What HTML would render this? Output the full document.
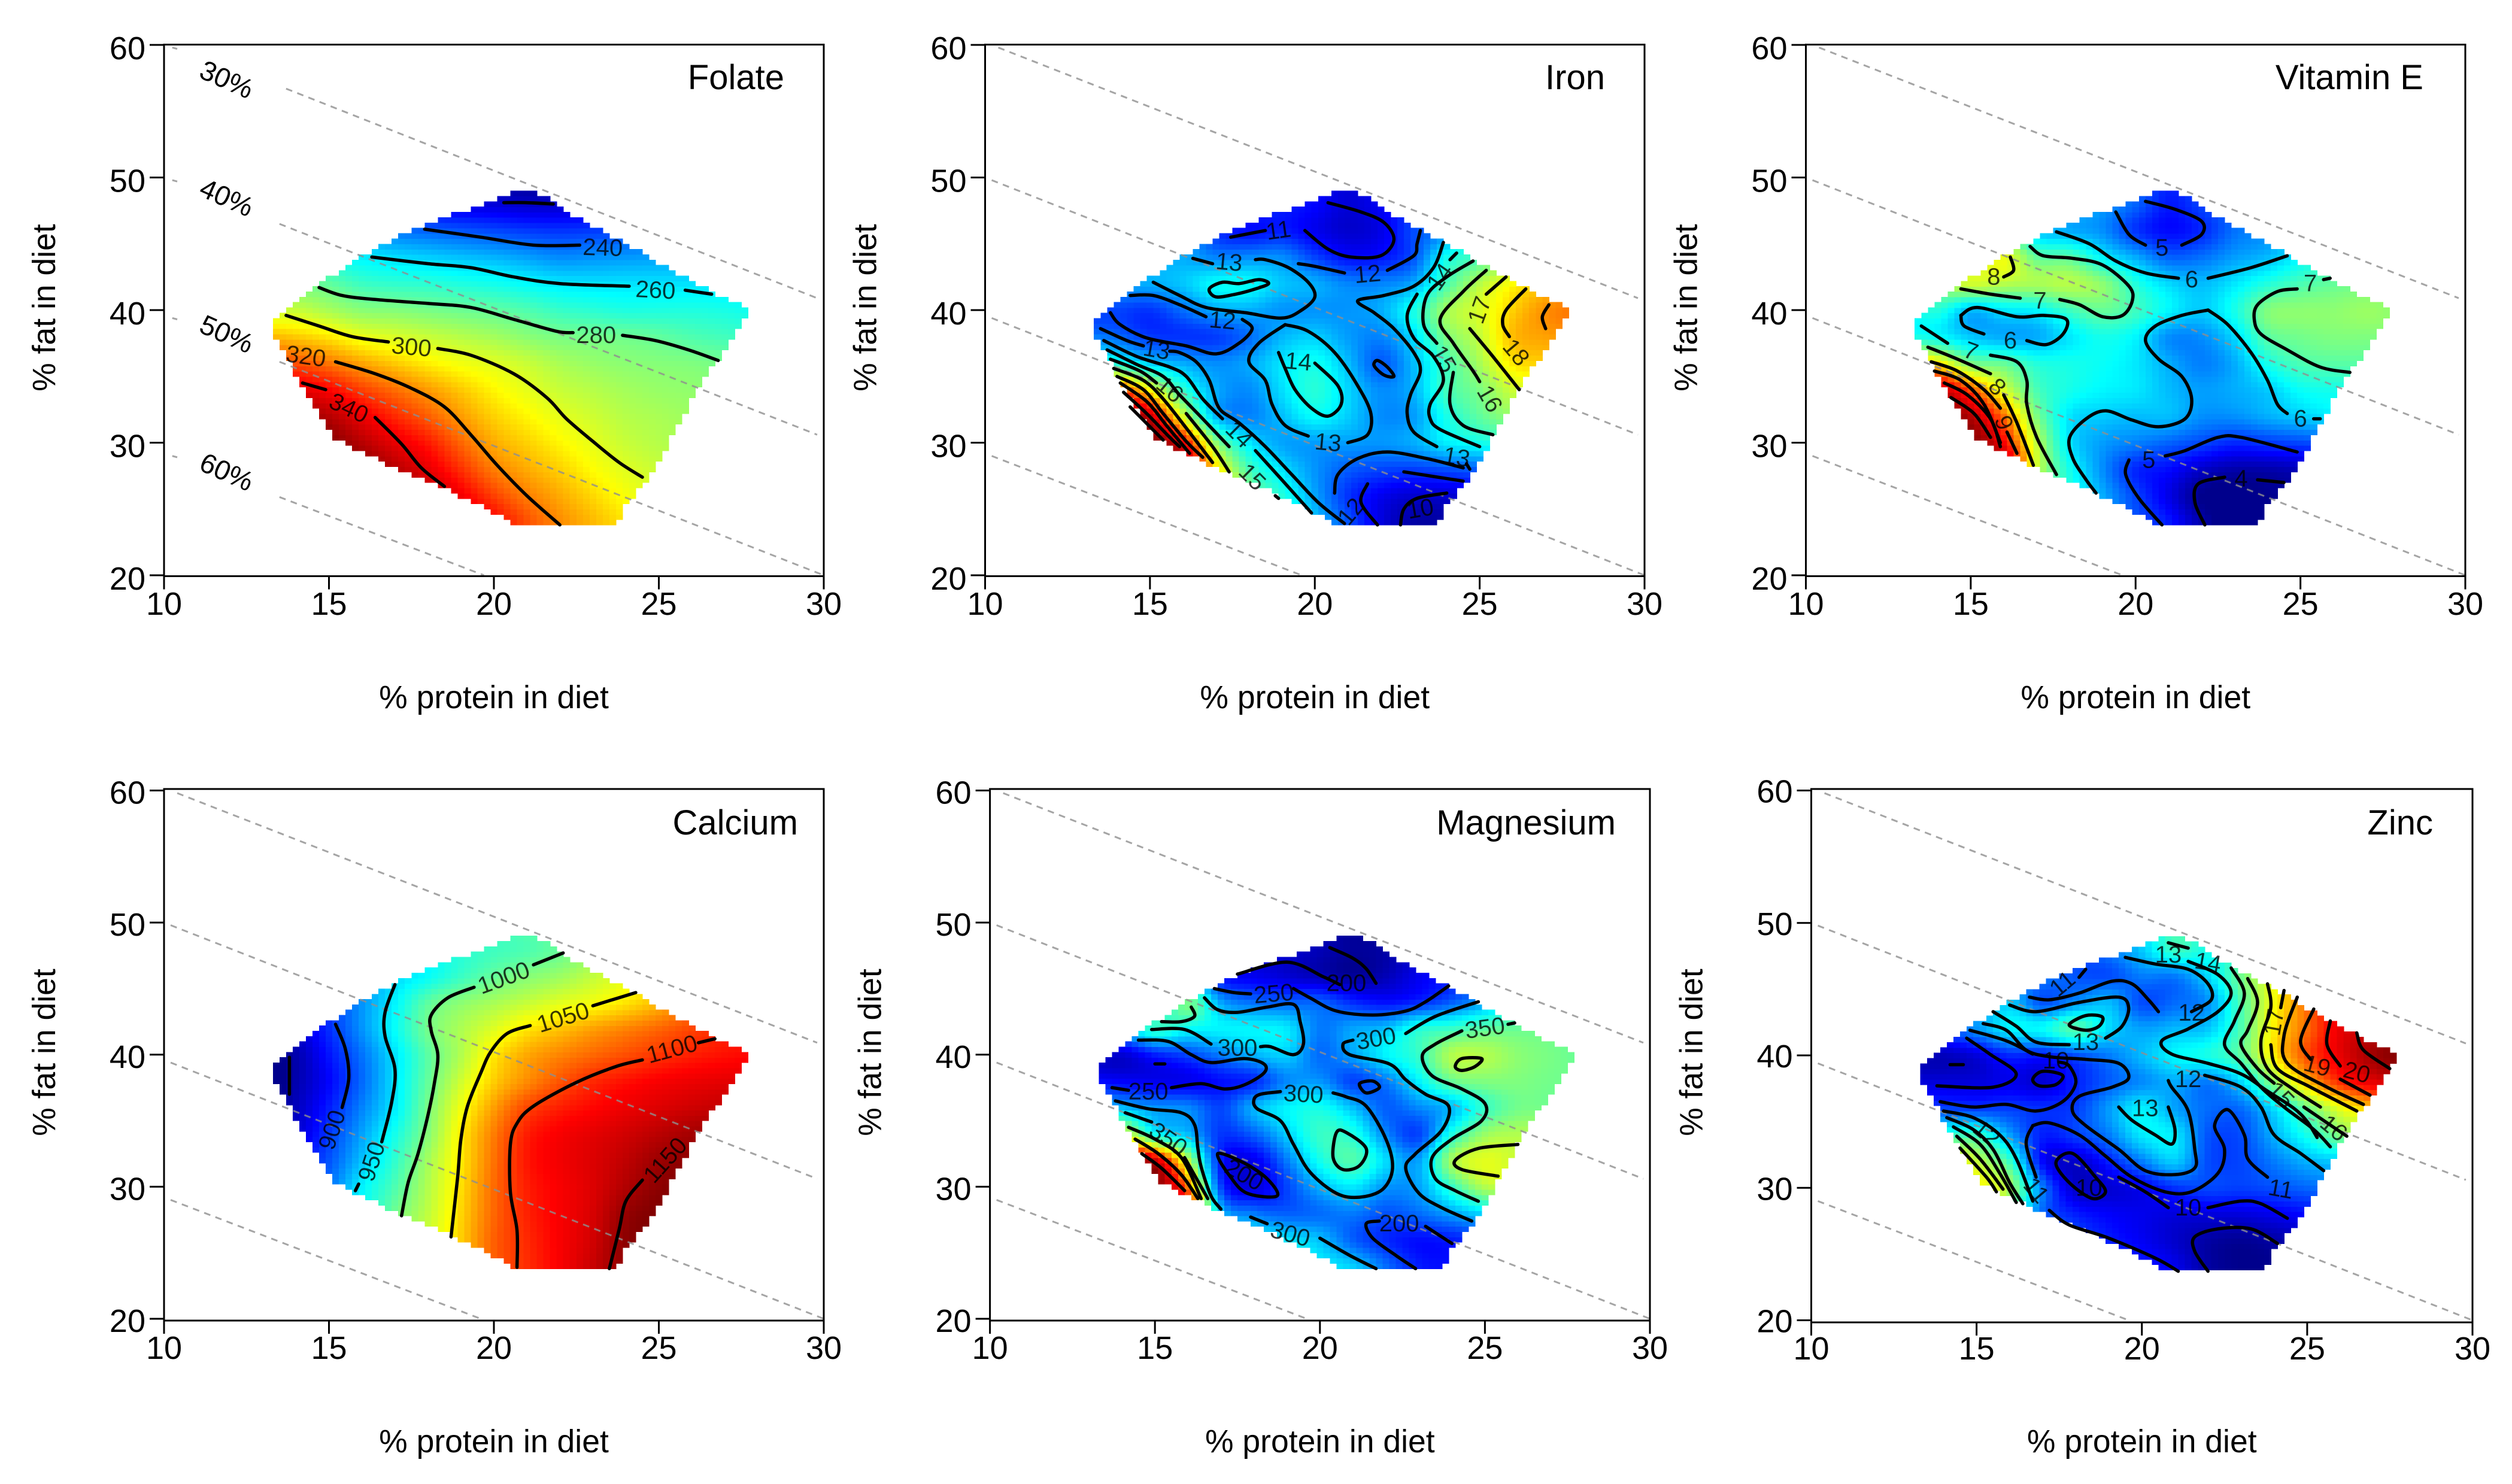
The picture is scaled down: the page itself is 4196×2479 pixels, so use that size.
<!DOCTYPE html>
<html lang="en">
<head>
<meta charset="utf-8">
<title>Nutrient intake by diet composition</title>
<style>
html,body{margin:0;padding:0;background:#fff;width:4196px;height:2479px;overflow:hidden}
svg{display:block}
text{font-family:"Liberation Sans",Arial,sans-serif;fill:#000}
</style>
</head>
<body>
<svg id="figure" xmlns="http://www.w3.org/2000/svg" width="4196" height="2479" viewBox="0 0 4196 2479"></svg>
<script>
const proteinGrid=[13,14,15,16,17,18,19,20,21,22,23,24,25,26,27,28];
const fatGrid=[50,48,46,44,42,40,38,36,34,32,30,28,26,24];
const xTicks=[10,15,20,25,30];
const yTicks=[20,30,40,50,60];
const hullPolygon=[[13.4,39.4],[13.4,37.8],[13.9,35.6],[14.4,33.4],[15.2,30.4],[16,29.3],[17.5,27.6],[19,26],[20.7,23.8],[23.7,23.8],[24,25.4],[24.6,27],[25.1,29],[26,33.2],[26.7,36],[27.7,39.6],[27.7,40.2],[26.7,41.2],[24.5,44.3],[22.9,46.4],[21.7,48.3],[21.2,48.9],[20.5,48.9],[20.1,48.3],[19,47.4],[17.6,46.2],[16,44.1],[14.7,41.9]];
const mixLines=[[10.4,59.8,29.8,40.9],[10.2,49.8,29.8,30.6],[10.2,39.4,30,20],[10.2,29,19.6,20]];
const folateMixLines=[[13.7,56.7,29.8,40.9],[13.5,46.5,29.8,30.6],[13.5,36.1,30,20],[13.5,25.9,19.7,20],[10.25,59.8,10.4,59.7],[10.25,49.8,10.4,49.7],[10.25,39.4,10.4,39.3],[10.25,29,10.4,28.9]];
const mixLabels=[["30%",11.9,57.4],["40%",11.9,48.5],["50%",11.9,38.2],["60%",11.9,27.8]];

const folateRange=[209,359];
const folateValues=[
[215,215,215,215,215,215,215,212,210,210,212,215,220,225,230,235],
[235,235,230,225,222,222,221,220,218,218,219,220,225,232,238,240],
[255,250,245,245,242,240,238,236,234,233,234,235,238,240,243,245],
[272,268,264,261,258,256,254,252,249,246,247,248,249,250,252,253],
[286,282,279,273,271,270,268,266,263,260,259,259,259,259,259,258],
[296,296,291,286,285,283,281,279,276,272,270,268,268,268,267,265],
[315,312,308,302,299,296,293,290,286,283,282,281,279,276,274,272],
[330,328,323,317,312,307,303,300,296,291,288,286,285,284,282,280],
[348,343,338,330,324,318,312,306,301,296,293,290,288,287,286,284],
[358,355,350,341,333,326,318,311,306,301,297,293,291,289,288,287],
[365,362,358,350,342,335,325,316,311,306,301,296,293,291,290,290],
[365,365,362,358,350,342,332,322,316,311,305,300,296,293,292,292],
[365,365,365,362,356,350,340,330,322,316,310,304,299,295,293,293],
[365,365,365,365,360,355,346,338,328,320,314,308,302,297,295,295]];
const folateContours=[
[220,[20.3,48.1,21,48.1,21.8,48]],
[240,[17.9,46.1,19.6,45.5,21.2,44.9,22.6,44.9]],
[260,[16.3,44,18,43.5,19.3,43.2,20.6,42.5,22,42,24.1,41.8]],
[260,[25.8,41.5,26.6,41.2]],
[280,[14.7,41.7,15.4,41.1,16.4,40.8,18,40.5,19.3,40.2,20.6,39.3,21.9,38.4,22.4,38.3]],
[280,[23.9,38.1,24.9,37.7,25.9,37,26.8,36.2]],
[300,[13.7,39.6,14.7,38.8,15.7,38,16.8,37.6]],
[300,[18.3,37.1,19.3,36.6,20.6,35.2,21.6,33.4,22.2,31.8,23,30.1,23.8,28.5,24.5,27.4]],
[320,[15.2,36.1,16.4,35.2,17.5,34.1,18.5,32.7,19.3,30.6,20.1,28.3,21,26,22,23.8]],
[340,[14.2,34.5,14.9,34]],
[340,[16.4,31.9,17.2,29.9,17.8,28.1,18.5,26.7]]];
const folateLabels=[["240",23.3,44.7,2],["260",24.9,41.5,3],["280",23.1,38.1,0],["300",17.5,37.2,5],["320",14.3,36.5,8],["340",15.6,32.6,25]];

const ironRange=[9.5,22];
const ironValues=[
[12,12,12,12,12,11.5,11,10.8,10.4,10.8,11.5,12,12.5,13,14,15],
[12,12,12,12,12,11.5,11.2,10.9,10.4,10.8,11.6,12.4,13.5,14.5,15,16],
[13,13,13,13,11.5,11,11.2,10.7,10.3,10.6,11.8,12.5,14,15,16,17],
[13,13,13,13,12.5,12.6,12.6,11.7,11,11.1,11.9,14.2,15,16,17,18],
[13,13,13,13.3,14,14,13.3,13,12.5,12.5,13,15,16.5,17.5,18,18.5],
[11.7,11.7,11.5,12.2,12.9,13,12.7,12.7,12.7,13,14.3,16.2,17,18,18.7,19],
[12.5,12.2,11.6,11.5,11.6,12.2,13.1,13.4,12.8,12.5,13.6,15.7,16.7,18.2,18.5,18.7],
[15.5,14.5,13.5,13,12.6,12.9,13.7,14.2,13.2,12,13.2,14.9,16.3,17.7,18,18.2],
[22,20,17.5,14.7,13,12.6,13.6,14.5,13.5,12.6,13.1,14.9,15.7,16.8,17,17],
[22,22,21,17,13.2,12.5,13.2,14,13.4,12.6,12.8,14.3,15.3,16,16,16],
[22,22,22,20.5,16,13.8,12.9,12.8,12.8,12.7,13,13.8,14.2,14.5,14.5,14.5],
[22,22,22,22,18,15,13.7,12.7,12,11.7,11.6,11.8,12,12,12,12],
[22,22,22,22,19.5,16,14.5,12.9,11.5,10.7,10.3,10.3,10.5,10.5,10.5,10.5],
[22,22,22,22,20,17,15,13.3,11.9,10.5,9.8,9.8,10,10,10,10]];
const ironContours=[
[11,[17.45,45.5,18.5,46]],
[11,[20.4,48.1,21.4,47.4,22.1,46.6,22.4,45.3,22,44.1,21.1,44,20.4,44.6,19.7,46]],
[12,[19.5,43.5,20,43.3,20.9,42.8]],
[12,[22.2,43,23,44.1,23.1,45,23.2,46]],
[12,[14.4,41.1,15.1,41.1,15.9,40.4,16.7,39.5]],
[12,[17.8,39.3,18.1,38.6,17.7,37.5,17,36.7,16.1,37.3,14.9,37.9,14.1,38.9,13.8,39.8]],
[13,[16.3,43.9,16.9,43.5]],
[13,[15.1,42.1,15.9,41.1,16.7,40.2,17.9,39.8,19,39.4,19.6,40,20,41,19.8,42.1,19.2,43.2,18.5,43.8,18.2,43.8]],
[14,[16.8,41.6,17.2,42.1,17.7,42,18.3,42.3,18.6,42,18.2,41.6,17.6,41.2,17,41,16.8,41.6]],
[13,[13.5,38.6,14.3,37.7,14.8,37.3]],
[13,[15.6,36.9,15.9,36.8,16.4,36.1,16.8,34.7,17.1,32.6,17.7,31.5,18.5,29.7,19.3,27.6,20.1,25.5,20.9,23.9]],
[14,[13.6,37.7,14.6,36.5,15.6,35.7,16.1,35,16.6,33.3,17.2,31.8]],
[14,[18.2,29.4,19,27.2,19.9,24.7]],
[15,[13.7,37,14.6,35.9,15.4,35,15.9,33.6,16.6,31.8,17.4,29.7]],
[15,[18.8,26,18.9,25.8]],
[16,[13.8,36.3,14.7,35.4,15.2,34.5]],
[16,[16.1,32.2,16.9,29.7,17.4,27.8]],
[17,[13.9,35.6,14.8,34.7,15.4,33.3,16.1,31.1,16.9,28.5]],
[18,[14,35,14.8,34,15.4,32.2,16.1,30.1,16.6,28.9]],
[19,[14.1,34.5,14.9,33.1,15.5,31.3,16.2,29.2]],
[20,[14.2,33.8,14.9,32.2,15.6,30.4,15.9,29.7]],
[21,[14.4,32.7,15,31.2,15.4,30.2]],
[13,[19.1,38.9,19.8,38.4,20.6,36.8,21.3,34.3,21.7,32.2,21.6,30.6,21,30]],
[13,[19.8,30.5,19.1,31.3,18.7,32.9,18.5,34.7,18,36.1,18.3,37.5,19.1,38.9]],
[14,[20,36,20.7,34.3,20.8,32.9,20.4,32,19.9,32.6,19.4,34,19.1,35.6,18.9,36.8]],
[12,[21.9,36.2,22.2,35.7,22.4,35,22.1,35.1,21.8,35.8,21.9,36.2]],
[13,[23.9,45.1,23.6,43.2,23,41.8,22.1,41.1,21.3,40.7,21.8,39.8,22.4,38.6,23,36.8,23.2,35.4,22.9,33.6,22.8,32.2,23,30.8,23.7,29.7]],
[13,[24.6,28.4,24.7,28]],
[14,[24.3,44.3,24.1,43.8]],
[14,[23.1,41.2,22.8,39.6,23,37.9,23.6,36.5,23.9,34.7,23.5,32.9,23.5,31.8,23.8,31,25,29.7]],
[15,[24.8,43.7,24,42.5,23.4,41.1,23.3,38.9,23.7,37.5]],
[15,[24.2,35.3,24.1,32.9,24.5,31.3,25.4,30.6]],
[16,[25.2,43,24.5,41.4,23.8,39.3,24.2,37.5,24.8,35.4,25,34.6]],
[17,[25.8,42.5,25.2,41.2]],
[17,[24.7,38.6,25.4,36.5,26.2,34]],
[18,[26.4,41.6,25.8,40,25.7,38.9,25.9,38]],
[19,[27.1,40.4,26.9,39.5,27,38.6]],
[12,[20.6,26.2,20.7,27.6,21.3,28.8,22.2,29.3,23.4,28.8,24.5,28.1]],
[11,[22.7,27.8,24.5,27.1]],
[11,[21.6,26.9,21.4,25.5,21.9,23.8]],
[10,[22.6,23.8,22.7,25,23.1,25.8,24,26.2]]];
const ironLabels=[["11",18.9,46,-8],["13",17.4,43.6,5],["12",21.6,42.7,-5],["12",17.2,39.2,5],["13",15.2,37,10],["16",15.6,34,40],["14",17.7,30.6,45],["15",18.1,27.4,45],["14",19.5,36.1,5],["13",20.4,30,5],["13",24.3,28.9,10],["14",23.8,42.5,-55],["15",23.9,36.3,60],["16",25.3,33.3,60],["17",25,40,-70],["18",26.1,36.8,50],["12",21.1,24.8,-50],["10",23.2,25,-10]];

const vitaminERange=[3.9,10.7];
const vitaminEValues=[
[6,6,6,6,6,6,5.8,5.4,4.9,5.2,5.5,5.6,5.8,6,6,6],
[6,6,6.5,6.5,6.2,6,5.7,5.3,4.8,5.1,5.4,5.6,5.8,6,6,6],
[6.5,7,7,7,6,5.8,5.6,5,4.7,4.9,5.4,5.6,6,6.2,6.4,6.5],
[7,7.2,7.5,8.1,7.1,7,6.3,5.8,5.3,5.4,5.7,5.9,6.3,6.6,6.8,7],
[7,7.5,7.9,7.7,7.6,7.7,7.4,6.6,6.1,5.9,6.2,6.6,6.9,7.1,7.2,7.2],
[6.4,6.6,5.9,6.2,6.3,6.8,7.1,6.8,6.3,6,6.5,7.3,7.4,7.4,7.5,7.4],
[6.6,6.4,6,5.8,5.8,6.2,6.5,6.3,5.6,5.6,6.1,7,7.2,7.3,7.3,7.3],
[9,8.4,7.3,7.1,6.6,6.5,6.4,6.2,5.8,5.5,5.8,6.5,6.9,7,7,7],
[10.7,10.3,9.3,8,6.9,6.5,6.3,6.2,5.9,5.7,5.8,6,6.4,6.5,6.5,6.5],
[10.7,10.7,10.3,9.1,7.3,6.2,6,5.9,5.9,5.6,5.6,5.8,6,6.2,6.2,6.2],
[10.7,10.7,10.7,9.8,7.8,6.2,5.7,5.5,5.3,5.1,4.9,5,5.1,5.2,5.2,5.2],
[10.7,10.7,10.7,10.6,7.9,6.5,5.6,4.9,4.7,4.3,4.1,4.1,4.2,4.2,4.2,4.2],
[10.7,10.7,10.7,10.7,7.5,6.6,5.8,5.1,4.5,3.9,3.8,3.9,4,4,4,4],
[10.7,10.7,10.7,10.7,7.5,6.6,5.8,5.2,4.8,4.1,3.7,3.7,3.8,3.8,3.8,3.8]];
const vitaminEContours=[
[5,[21.4,44.9,22,45.7,22,46.7,21.2,47.6,20.3,48.2]],
[5,[20.3,44.9,19.8,45.7,19.4,47.4]],
[6,[17.6,45.9,18.6,45,19.4,43.7,20.3,42.8,21.3,42.4]],
[6,[22.2,42.4,23.5,43.2,24.6,44.1]],
[7,[16.8,44.8,17.2,44.1,18.1,43.9,19,43.4,19.8,41.8,19.9,40.7,19.6,39.6,19,39.5,18.3,40.4,17.7,40.8]],
[7,[16.5,40.9,15.6,41.2,14.7,41.6]],
[8,[16.2,44,16.3,43,16,42.5]],
[6,[14.7,39.6,15.2,40.2,16.4,39.5,17.2,39.6,17.9,39.3,17.8,38.2,17.3,37.4,16.7,37.7]],
[6,[15.4,38.2,14.8,38.8,14.7,39.6]],
[7,[13.5,38.8,14.3,37.5]],
[7,[15.6,36.6,16.4,36.1,16.7,34.7,16.7,32.9,17,30.4,17.6,27.6]],
[8,[13.7,37.2,14.6,36.3,15.6,35.2]],
[8,[16,33.6,16.4,31.5,16.9,28.3]],
[9,[13.8,36.1,14.6,35.4,15.4,34,15.9,32.6]],
[9,[16.1,30.8,16.4,29.2]],
[9.5,[13.9,35.4,14.7,34.7,15.4,32.9,15.9,30]],
[10,[14.2,34.5,14.9,33.6,15.6,31.8,15.9,29.7]],
[10.5,[14.4,33.4,15.1,32.2,15.6,30.4]],
[6,[22.2,40,21.4,39.6,20.6,38.8,20.3,37.7,20.7,36.3,21.4,35,21.7,33.3,21.5,31.8,20.7,31.2,19.9,31.7,19.1,32.4,18.5,31.8,18,30.4,18.1,28.8,18.5,27.2,18.8,26.2]],
[6,[22.2,40,22.8,38.9,23.5,36.8,24,34.7,24.3,32.9,24.6,32.2]],
[6,[25.4,31.8,25.6,31.8]],
[7,[25.9,42.4,25.7,42.3]],
[7,[24.9,41.6,24.3,41.4,23.7,40.4,23.6,39.3,23.8,38.2,24.6,37,25.6,35.7,26.5,35.3]],
[5,[20.8,23.8,20.1,25.8,19.7,27.6,19.8,28.7]],
[5,[20.9,29,21.5,29.4,22.5,30.4,23.2,30.4,24.9,29.3]],
[4,[22.1,23.8,21.8,25.5,21.9,26.9,22.7,27.4]],
[4,[23.7,27.2,24.5,27]]];
const vitaminELabels=[["5",20.8,44.7,0],["6",21.7,42.3,0],["7",17.1,40.7,0],["8",15.7,42.5,0],["6",16.2,37.7,0],["7",15,36.9,20],["8",15.8,34.2,45],["9",16,31.5,70],["6",25,31.8,0],["7",25.3,42,0],["5",20.4,28.7,0],["4",23.2,27.3,0]];

const calciumRange=[845,1160];
const calciumValues=[
[850,860,885,915,945,965,975,982,990,1000,1015,1030,1050,1070,1085,1095],
[850,860,885,915,942,960,972,980,985,995,1010,1028,1045,1065,1080,1090],
[850,865,890,920,945,960,978,993,1004,1012,1025,1038,1055,1070,1082,1090],
[850,865,895,925,955,990,1006,1016,1026,1036,1043,1053,1065,1080,1090,1095],
[850,865,893,925,960,998,1018,1035,1052,1062,1072,1080,1088,1097,1105,1110],
[840,855,885,915,950,990,1020,1052,1070,1080,1088,1095,1102,1108,1112,1115],
[835,855,880,912,950,993,1030,1060,1078,1093,1105,1112,1118,1122,1125,1127],
[840,860,888,920,953,1000,1042,1073,1097,1108,1115,1122,1128,1133,1137,1140],
[845,865,897,930,965,1005,1050,1082,1108,1118,1125,1132,1140,1147,1150,1150],
[860,880,905,940,975,1015,1052,1085,1110,1120,1128,1138,1150,1155,1155,1155],
[870,890,915,955,985,1020,1055,1087,1108,1118,1128,1143,1155,1160,1160,1160],
[880,900,930,960,997,1025,1058,1088,1107,1118,1130,1152,1160,1160,1160,1160],
[890,910,940,970,1005,1030,1060,1090,1105,1118,1132,1155,1160,1160,1160,1160],
[890,910,940,970,1005,1030,1060,1090,1104,1118,1135,1155,1160,1160,1160,1160]];
const calciumContours=[
[850,[13.8,39.8,13.8,38.4,13.8,37]],
[900,[15.2,42.3,15.5,40.4,15.6,38.2,15.4,36]],
[950,[17,45.3,16.7,43.2,16.7,41.4,17,38.9,16.9,36.4,16.6,33.4]],
[950,[15.9,30.2,15.8,29.7]],
[1000,[22.1,47.7,21.2,46.8]],
[1000,[19.4,45.1,18.6,44.3,18.1,43,18.1,41.8,18.3,40,18.2,37.9,18,35.4,17.7,32.5,17.4,30.3,17.2,27.8]],
[1050,[24.3,44.7,23,43.7]],
[1050,[21.1,42.2,20.4,41.6,19.9,40.2,19.6,38.6,19.2,36.1,19,33.6,18.9,30.7,18.7,26.2]],
[1100,[26.7,41.2,26.2,40.9]],
[1100,[24.5,39.6,23.7,39.1,22.5,37.9,21.2,36.1,20.7,34.8,20.5,33.2,20.5,29.6,20.7,26.7,20.7,23.9]],
[1150,[24.5,30.5,24,28.9,23.8,26.8,23.5,23.8]]];
const calciumLabels=[["900",15.1,34.3,-72],["950",16.3,31.9,-72],["1000",20.3,45.8,-20],["1050",22.1,42.8,-17],["1100",25.4,40.4,-15],["1150",25.2,32,-48]];

const magnesiumRange=[190,560];
const magnesiumValues=[
[230,230,230,230,230,225,215,205,195,200,220,240,250,260,270,280],
[230,230,230,230,230,225,215,205,195,200,220,240,250,260,270,280],
[280,280,280,280,235,225,215,205,195,205,225,240,260,280,300,320],
[300,300,300,370,290,270,265,265,245,235,245,265,290,320,340,350],
[300,300,345,325,320,320,315,275,290,300,335,345,360,365,365,365],
[220,215,240,255,275,295,305,270,290,320,345,395,395,380,372,365],
[235,230,225,225,235,245,280,285,255,275,320,365,375,375,370,370],
[320,300,285,280,255,295,320,330,300,265,280,300,345,370,370,370],
[470,430,330,300,250,265,305,345,335,280,255,335,385,395,395,395],
[550,550,530,400,240,225,275,330,355,310,290,390,415,405,405,405],
[560,560,560,470,255,220,255,295,315,285,290,345,395,400,400,400],
[560,560,560,540,310,275,265,270,275,260,270,290,310,320,320,320],
[560,560,560,560,380,330,315,300,265,245,235,240,250,250,250,250],
[560,560,560,560,400,350,340,320,305,270,240,235,240,240,240,240]];
const magnesiumContours=[
[200,[20.3,48.1,21,47.3,21.4,46.5,21.7,45.4]],
[200,[17.5,46.1,19,47,20.1,45.9,20.6,45.3]],
[250,[16.8,45,17.4,44.7,17.9,44.6]],
[250,[19.2,45,19.7,44.3,20.5,43.3,21.6,43,22.6,43.3,23.2,44,23.9,45.2]],
[300,[16.5,44.3,16.9,43.4,17.5,43.2,18.4,43.6,19.2,43.8,19.4,42.5,19.5,40.8,19.2,40,18.5,40.6,18.2,40.6]],
[300,[16.7,40.8,15.9,41.9,14.9,41.9]],
[350,[16.1,43.6,16.2,42.9,15.8,42.5,15.2,42.5]],
[250,[14.5,41.1,15.4,41,16.1,40,16.7,39.4,17.7,39.7,18.3,39.3,18.3,38.6,17.7,37.7,17.1,37.4,16.4,37.8,15.5,37.5]],
[250,[14.2,37.3,13.7,37.5]],
[200,[15,39.3,15.3,39.3,15,39.3]],
[300,[13.8,36.5,14.8,35.9,15.8,35.6,16.2,34.7,16.3,32.9,16.4,31.5,16.7,29.3,17,28.3]],
[300,[17.9,27.7,18.4,27.2]],
[300,[20,26.1,20.9,24.8,21.7,23.8]],
[350,[14.1,35.6,14.9,34.9]],
[350,[15.9,32.2,16.6,29.1]],
[400,[14.2,34.5,15,33.6,15.8,32.2,16.4,29.1]],
[450,[14.4,33.6,15.1,32.5,15.8,30.9,16.3,29.1]],
[500,[14.6,32.5,15.2,31.4,15.9,29.7]],
[250,[16.9,32.5,17.3,30.7,17.8,29.5,18.7,29.3,18.4,30.6,17.7,31.8,16.9,32.5]],
[300,[18.8,37.2,18.2,37,18,36.6,18.1,35.9,18.8,35,19.2,33.2,19.7,31.1,20.5,29.5,21.2,29.2,21.9,29.8,22.2,31.4,22,33.6,21.4,36.1,20.8,36.8,20.4,37.1]],
[350,[20.5,34.1,20.8,34.1,21.4,32.9,21.2,31.6,20.7,31.3,20.4,32.2,20.5,34.1]],
[250,[21.2,37.8,21.6,38,21.8,37.5,21.4,37.1,21.2,37.8]],
[300,[21,41.1,20.7,40.8,20.9,40,22.1,39.3,22.6,38.1,23.2,37,23.9,36.1,23.7,34.3,22.9,32.5,22.6,31.4,23,29.5,23.7,28.4,24.6,27.4]],
[300,[22.6,41.6,23.5,42.9,24.8,44]],
[350,[25.9,42.4,25.7,42.3]],
[350,[24.3,41.8,23.5,40.8,23.1,39.9,23.4,38.4,24.3,37.4,25,36.3,24.9,35,24,33.6,23.4,32.2,23.5,30.6,24.1,29.7,24.8,28.9]],
[400,[24.1,39.1,24.3,39.7,24.9,39.7,24.7,39.1,24.3,38.8,24.1,39.1]],
[400,[26,33.2,24.8,32.9,24.1,32,24.3,31.3,25.4,30.8]],
[250,[22.9,23.8,22.3,24.8,21.6,26.1,21.4,27.2,21.8,27.4]],
[250,[23.2,27,24,25.7]]];
const magnesiumLabels=[["200",20.8,45.4,0],["250",18.6,44.6,-5],["300",17.5,40.5,0],["250",14.8,37.2,0],["350",15.4,33.6,35],["200",17.7,30.9,30],["300",19.1,26.4,15],["300",19.5,37,3],["300",21.7,41.2,-10],["350",25,42,-8],["200",22.4,27.2,0]];

const zincRange=[9,22];
const zincValues=[
[12,12,12,12,12,11.5,12,13,14.5,14,14,15,17,18,19,20],
[12,12,12,12,12,11.5,12,13,14.5,14,14.5,16,18,19,20,21],
[12,12,12,12,12,11.5,11.4,12,12,13.2,15.3,17,19,20,21,21.5],
[12,12,12,13,11.5,12.3,12.8,11.4,11.8,12.3,14.8,17.2,19,20.5,21,21.5],
[11,11.5,12.3,13.5,13.7,14.8,13.2,12.5,12.8,13,14.8,17.5,19,20.5,21,21.5],
[9.6,9.6,10,10.9,10.7,11.4,12,12.8,13.6,14,15,17.5,19.3,20.5,21.5,22],
[10,10,10,10.2,9.9,10.8,11.6,12.2,12.6,12,13.2,15.7,18,19.7,20.5,21],
[11.5,11.3,11.2,11.2,11,11.2,12.4,13.5,12.5,11.8,11.8,13.3,15.2,17,18,18.5],
[15.5,14.5,14.5,12.5,10.8,11.2,12,13.4,13.4,11.5,11.4,12.7,14,15.5,16,16],
[18,18,16.5,14.5,10.5,9.8,10.8,12,13,11.4,11.3,12,12.7,13,13,13],
[18,18,17.5,16,12,9.8,9.9,10.3,11,11.3,11.2,11.4,11.7,12,12,12],
[18,18,18,15,11.8,10.8,10.4,10.2,10,10,10,10.2,10.5,10.5,10.5,10.5],
[18,18,18,15,13,11.5,10.8,10.3,9.8,9.3,9.1,9.3,9.5,9.5,9.5,9.5],
[18,18,18,15,13,12,11.5,10.8,10.2,9.3,9,9,9,9,9,9]];
const zincContours=[
[14,[20.8,48.5,21.4,48.1]],
[12,[16.6,44.4,17.2,44.2,18.1,44.7,19.1,45.6,19.7,45.4,20.2,44.2,20.5,43.3]],
[11,[18.1,45.9,18.3,46.5]],
[13,[16,43.8,16.8,43.3,18.1,44,19.3,44.4,19.6,43.6,19.4,42.2,18.9,41.3]],
[14,[17.8,42.3,18.3,43,18.8,42.9,18.7,42.2,18.3,41.9,17.8,42.3]],
[13,[15.5,43.3,16.2,42.2,16.8,41,17.8,40.8]],
[12,[15.2,42.4,15.9,41.9,16.5,40.4,17.2,39.9,18.3,39.7,19.3,39.4,19.6,38.3,19.1,37.6,18.1,36.9,17.9,35.8,18.3,34.7,19.3,32.9,20.1,31.3,21,31,21.6,31.5,21.6,32.9,21.4,35.8,20.9,37.6,20.8,38.1]],
[13,[19.3,36.1,19.7,35.1,20.4,34,20.9,33.3,21,34.4,20.8,36.1]],
[12,[19.5,47.4,20.4,46.9,21.4,46.5,22,45.4,22.1,44.2,21.5,43.3]],
[13,[21.4,47.1,22.3,46.1,22.7,44.7,22.3,43.3,21.4,42,20.6,41.1,20.9,40.1,22,39.4,23,38.6,23.8,37.3,24.6,36,25,35,25.3,33.8]],
[14,[22.7,46.6,23.1,44.7,22.8,42.6,22.5,40.8,23,39.4,23.6,37.6,24.3,36.1,25.2,34.4,25.7,33.1]],
[15,[23.2,45.8,23.5,44,23.2,41.9,23,40.8,23.5,39,24,37.9]],
[15,[24.9,36.1,25.9,34.4,26.2,33.9]],
[16,[23.8,45.4,23.9,43.6,23.6,41.1,23.8,39,24.6,37.4,25.4,36.1]],
[17,[24.3,44.9,24.2,43.6]],
[17,[23.9,40.8,24.1,39,25.1,37.6,26.5,35.8]],
[18,[24.7,44.4,24.3,41.5,24.4,39.4,25.6,37.6,26.7,36.3]],
[19,[25.2,43.5,24.8,41.1,25.1,39.7]],
[19,[26,38.2,26.9,37]],
[20,[25.7,42.6,25.6,40.8,26,39.2]],
[21,[26.5,41.7,26.7,40.4,27.5,39]],
[12,[21.9,38.5,23,37.6,23.6,36.1,24,34,24.8,32.6,25.5,31.3]],
[11,[13.9,36.5,14.9,36.1,15.9,36.3,16.8,35.8,17.6,36.5,18,37.9,17.8,39.2,17.5,39.5]],
[11,[16.7,34.7,17.2,34.9,18.1,34,18.9,32.4,19.7,30.8,20.7,29.7,21.5,29.7,22.3,31.1,22.5,32.9,22.2,34.7,22.6,35.9,23.1,34,23.2,32.2,23.8,30.8]],
[11,[16.7,34.7,16.5,33.3,16.8,30.8]],
[11,[17.2,28.3,17.8,27.2,19,26.2,20.4,24.7,21.1,23.7]],
[9,[17.4,31.9,17.9,32.6,18.6,30.8,18.9,29.7,18.5,29.2,17.8,30.4,17.4,31.9]],
[10,[19.3,30.8,20.1,29.7,20.8,28.5]],
[10,[22,28.5,23,29,23.6,28.8,24.4,27.7]],
[9,[22,23.7,21.6,25.2,21.6,26.3,22.3,26.9,23.3,26.9,24.1,25.8]],
[12,[14,35.8,14.9,35.3,15.7,34,16.2,32.2,16.7,29]],
[13,[14.1,35.3,14.9,34.4,15.5,32.9,16,30.4,16.4,28.8]],
[14,[14.3,34.6,15.1,33.3,15.7,31.1,16.2,28.9]],
[15,[14.4,33.9,15.1,32.2,15.8,29.9]],
[16,[14.5,33,15.3,30.8,15.6,29.7]],
[10,[14.8,41.9,15.9,41.1,16.7,40.1]],
[10,[14.7,41.3,15.4,40.1,16.2,38.6,15.5,37.6,13.8,37.7]],
[9,[14.2,39.3,14.6,39.3,14.2,39.3]],
[10,[16.7,38.2,17,38.8,17.6,38.5,17.4,37.8,16.9,37.7,16.7,38.2]]];
const zincLabels=[["13",20.8,47.6,0],["14",22,47,10],["11",17.6,45.4,-40],["12",21.5,43.2,0],["13",18.3,41,0],["10",17.4,39.6,0],["12",21.4,38.2,0],["13",20.1,36,0],["15",24.2,37,45],["19",25.3,39.2,15],["20",26.5,38.7,15],["16",25.8,34.5,40],["17",24,42.5,-80],["12",15.3,34.1,40],["11",16.8,29.8,50],["10",18.4,30,0],["10",21.4,28.5,0],["11",24.2,29.9,10]];

const jetStops=[[0,0,0,140],[0.11,0,0,255],[0.36,0,255,255],[0.5,127,255,127],[0.64,255,255,0],[0.86,255,0,0],[1,127,0,0]];

const panels=[
{key:"folate",title:"Folate",values:folateValues,range:folateRange,contours:folateContours,labels:folateLabels,lines:folateMixLines,left:274,right:1376,top:75,bottom:961,boxTop:74.5,boxBottom:962.5,titleRight:1310,titleBase:149,xTickBase:1027,xLabelBase:1183,yLabelMid:514,yTickDrop:24},
{key:"iron",title:"Iron",values:ironValues,range:ironRange,contours:ironContours,labels:ironLabels,lines:mixLines,left:1645.5,right:2747,top:75,bottom:961,boxTop:74.5,boxBottom:962.5,titleRight:2681,titleBase:149,xTickBase:1027,xLabelBase:1183,yLabelMid:514,yTickDrop:24},
{key:"vitamin-e",title:"Vitamin E",values:vitaminEValues,range:vitaminERange,contours:vitaminEContours,labels:vitaminELabels,lines:mixLines,left:3016.5,right:4118,top:75,bottom:961,boxTop:74.5,boxBottom:962.5,titleRight:4048,titleBase:149,xTickBase:1027,xLabelBase:1183,yLabelMid:514,yTickDrop:24},
{key:"calcium",title:"Calcium",values:calciumValues,range:calciumRange,contours:calciumContours,labels:calciumLabels,lines:mixLines,left:274,right:1376,top:1320.5,bottom:2203,boxTop:1318,boxBottom:2206,titleRight:1333,titleBase:1394,xTickBase:2270,xLabelBase:2426,yLabelMid:1758,yTickDrop:22},
{key:"magnesium",title:"Magnesium",values:magnesiumValues,range:magnesiumRange,contours:magnesiumContours,labels:magnesiumLabels,lines:mixLines,left:1653.6,right:2756,top:1320.5,bottom:2203,boxTop:1318,boxBottom:2206,titleRight:2699,titleBase:1394,xTickBase:2270,xLabelBase:2426,yLabelMid:1758,yTickDrop:22},
{key:"zinc",title:"Zinc",values:zincValues,range:zincRange,contours:zincContours,labels:zincLabels,lines:mixLines,left:3025.5,right:4130,top:1320.5,bottom:2205.5,boxTop:1318,boxBottom:2209,titleRight:4064,titleBase:1394,xTickBase:2271,xLabelBase:2426,yLabelMid:1758,yTickDrop:20}
];

const SVGNS="http://www.w3.org/2000/svg";
const root=document.getElementById("figure");
function mk(parent,tag,attrs){
  const el=document.createElementNS(SVGNS,tag);
  for(const k in attrs){el.setAttribute(k,attrs[k]);}
  parent.appendChild(el);
  return el;
}
function jet(t){
  t=Math.max(0,Math.min(1,t));
  for(let i=1;i<jetStops.length;i++){
    if(t<=jetStops[i][0]){
      const a=jetStops[i-1],b=jetStops[i],f=(t-a[0])/(b[0]-a[0]);
      return "rgb("+Math.round(a[1]+(b[1]-a[1])*f)+","+Math.round(a[2]+(b[2]-a[2])*f)+","+Math.round(a[3]+(b[3]-a[3])*f)+")";
    }
  }
  return "rgb(127,0,0)";
}
function cr(p0,p1,p2,p3,t){
  return 0.5*((2*p1)+(-p0+p2)*t+(2*p0-5*p1+4*p2-p3)*t*t+(-p0+3*p1-3*p2+p3)*t*t*t);
}
function fieldAt(vals,x,y){
  const dx=proteinGrid[1]-proteinGrid[0],dy=fatGrid[0]-fatGrid[1];
  const u=(x-proteinGrid[0])/dx,v=(fatGrid[0]-y)/dy;
  const iu=Math.floor(u),iv=Math.floor(v),fu=u-iu,fv=v-iv;
  const cx=i=>Math.max(0,Math.min(proteinGrid.length-1,i));
  const cy=i=>Math.max(0,Math.min(fatGrid.length-1,i));
  const col=[];
  for(let j=-1;j<=2;j++){
    const r=vals[cy(iv+j)];
    col.push(cr(r[cx(iu-1)],r[cx(iu)],r[cx(iu+1)],r[cx(iu+2)],fu));
  }
  return cr(col[0],col[1],col[2],col[3],fv);
}
function inHull(x,y){
  let c=false;
  for(let i=0,j=hullPolygon.length-1;i<hullPolygon.length;j=i++){
    const a=hullPolygon[i],b=hullPolygon[j];
    if((a[1]>y)!==(b[1]>y)&&x<(b[0]-a[0])*(y-a[1])/(b[1]-a[1])+a[0]){c=!c;}
  }
  return c;
}
function smoothPath(pts){
  const n=pts.length;
  const closed=n>3&&pts[0][0]===pts[n-1][0]&&pts[0][1]===pts[n-1][1];
  let d="M"+pts[0][0].toFixed(1)+" "+pts[0][1].toFixed(1);
  for(let i=0;i<n-1;i++){
    const p1=pts[i],p2=pts[i+1];
    let p0,p3;
    if(closed){p0=i===0?pts[n-2]:pts[i-1];p3=i===n-2?pts[1]:pts[i+2];}
    else{p0=i===0?p1:pts[i-1];p3=i===n-2?p2:pts[i+2];}
    const c1x=p1[0]+(p2[0]-p0[0])/6,c1y=p1[1]+(p2[1]-p0[1])/6,c2x=p2[0]-(p3[0]-p1[0])/6,c2y=p2[1]-(p3[1]-p1[1])/6;
    d+="C"+c1x.toFixed(1)+" "+c1y.toFixed(1)+" "+c2x.toFixed(1)+" "+c2y.toFixed(1)+" "+p2[0].toFixed(1)+" "+p2[1].toFixed(1);
  }
  return d;
}

panels.forEach(function(p){
  const sx=v=>p.left+(v-10)*(p.right-p.left)/20;
  const sy=v=>p.bottom-(v-20)*(p.bottom-p.top)/40;
  const g=mk(root,"g",{});
  
  

  const heat=mk(g,"g",{"shape-rendering":"crispEdges"});
  
  
  const stepX=0.2,stepY=0.4;
  for(let iy=0;iy<65;iy++){
    const y=23.8+stepY*(iy+0.5);
    for(let ix=0;ix<75;ix++){
      const x=13.3+stepX*(ix+0.5);
      if(!inHull(x,y)){continue;}
      const val=fieldAt(p.values,x,y);
      const rect=mk(heat,"rect",{
        x:sx(x-stepX/2).toFixed(1),
        y:sy(y+stepY/2).toFixed(1),
        width:(sx(stepX)-sx(0)+0.7).toFixed(1),
        height:(sy(0)-sy(stepY)+0.7).toFixed(1),
        fill:jet((val-p.range[0])/(p.range[1]-p.range[0]))
      });
      
      
    }
  }

  p.lines.forEach(function(l){
    const line=mk(g,"line",{x1:sx(l[0]),y1:sy(l[1]),x2:sx(l[2]),y2:sy(l[3]),stroke:"#8f8f8f","stroke-width":3,"stroke-dasharray":"11 9","stroke-opacity":0.8});
    
    
  });

  p.contours.forEach(function(c){
    const flat=c[1],pts=[];
    for(let i=0;i<flat.length;i+=2){pts.push([sx(flat[i]),sy(flat[i+1])]);}
    const path=mk(g,"path",{d:smoothPath(pts),fill:"none",stroke:"#000","stroke-width":5.5,"stroke-linecap":"round","stroke-linejoin":"round"});
    
    
  });

  p.labels.forEach(function(l){
    const tx=sx(l[1]),ty=sy(l[2]);
    const t=mk(g,"text",{x:tx,y:ty,"font-size":40,"text-anchor":"middle","dominant-baseline":"central",transform:"rotate("+l[3]+" "+tx+" "+ty+")","fill-opacity":0.78});
    t.textContent=l[0];
    
    
  });

  if(p.key==="folate"){
    mixLabels.forEach(function(l){
      const tx=sx(l[1]),ty=sy(l[2]);
      const t=mk(g,"text",{x:tx,y:ty,"font-size":46,"text-anchor":"middle","dominant-baseline":"central",transform:"rotate(24 "+tx+" "+ty+")",fill:"#222"});
      t.textContent=l[0];
      
      
    });
  }

  const box=mk(g,"rect",{x:p.left,y:p.boxTop,width:p.right-p.left,height:p.boxBottom-p.boxTop,fill:"none",stroke:"#000","stroke-width":3});
  
  

  xTicks.forEach(function(v){
    const tk=mk(g,"line",{x1:sx(v),y1:p.boxBottom,x2:sx(v),y2:p.boxBottom+22,stroke:"#000","stroke-width":3});
    
    
    const t=mk(g,"text",{x:sx(v),y:p.xTickBase,"font-size":54,"text-anchor":"middle"});
    t.textContent=v;
    
    
  });
  yTicks.forEach(function(v){
    const tk=mk(g,"line",{x1:p.left-24,y1:sy(v),x2:p.left,y2:sy(v),stroke:"#000","stroke-width":3});
    
    
    const t=mk(g,"text",{x:p.left-31,y:sy(v)+p.yTickDrop,"font-size":54,"text-anchor":"end"});
    t.textContent=v;
    
    
  });

  const xl=mk(g,"text",{x:(p.left+p.right)/2,y:p.xLabelBase,"font-size":53.5,"text-anchor":"middle"});
  xl.textContent="% protein in diet";
  
  

  const yx=p.left-182;
  const yl=mk(g,"text",{x:yx,y:p.yLabelMid,"font-size":53.5,"text-anchor":"middle",transform:"rotate(-90 "+yx+" "+p.yLabelMid+")"});
  yl.textContent="% fat in diet";
  
  

  const ti=mk(g,"text",{x:p.titleRight,y:p.titleBase,"font-size":58,"text-anchor":"end"});
  ti.textContent=p.title;
  
  
});
</script>
</body>
</html>
